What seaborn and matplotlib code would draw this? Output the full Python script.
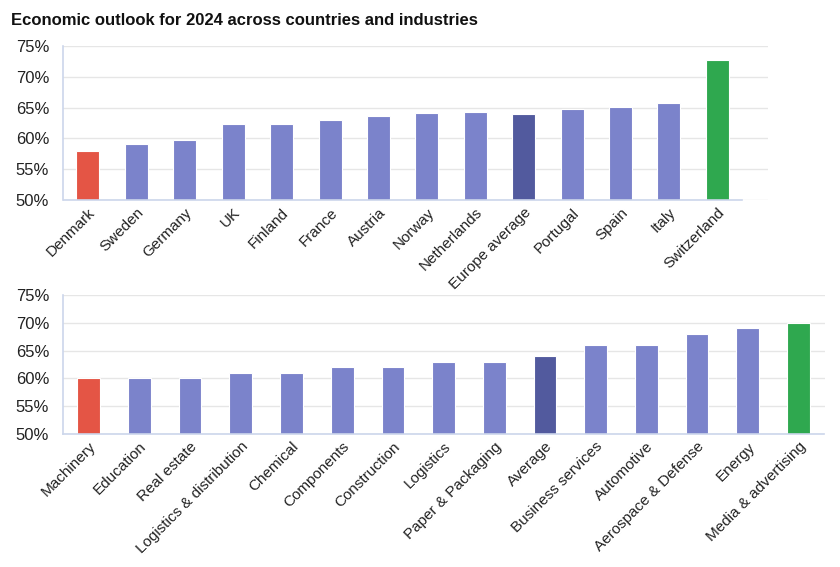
import matplotlib
matplotlib.use("Agg")
import matplotlib.pyplot as plt
import matplotlib.ticker as mticker
import seaborn as sns
import pandas as pd

# data (percent)
countries = ["Denmark", "Sweden", "Germany", "UK", "Finland", "France", "Austria",
             "Norway", "Netherlands", "Europe average", "Portugal", "Spain", "Italy",
             "Switzerland"]
country_values = [57.9, 59.1, 59.7, 62.4, 62.4, 63.0, 63.6, 64.2, 64.3, 63.9,
                  64.7, 65.1, 65.8, 72.8]

industries = ["Machinery", "Education", "Real estate", "Logistics & distribution",
              "Chemical", "Components", "Construction", "Logistics",
              "Paper & Packaging", "Average", "Business services", "Automotive",
              "Aerospace & Defense", "Energy", "Media & advertising"]
industry_values = [60, 60, 60, 61, 61, 62, 62, 63, 63, 64, 66, 66, 68, 69, 70]

BLUE = "#7b83cb"
DARK = "#525a9e"
RED = "#e45545"
GREEN = "#2fa84f"

sns.set_style("white")
plt.rcParams["font.family"] = ["Liberation Sans", "DejaVu Sans"]


def colors_for(labels, avg_label):
    pal = {}
    for i, lab in enumerate(labels):
        if i == 0:
            pal[lab] = RED
        elif i == len(labels) - 1:
            pal[lab] = GREEN
        elif lab == avg_label:
            pal[lab] = DARK
        else:
            pal[lab] = BLUE
    return pal


def draw(ax, labels, values, avg_label, width, xlim):
    df = pd.DataFrame({"name": labels, "value": values})
    sns.barplot(data=df, x="name", y="value", hue="name",
                palette=colors_for(labels, avg_label), legend=False,
                width=width, edgecolor="white", linewidth=0.8, saturation=1,
                ax=ax)
    ax.set_ylim(50, 75)
    ax.set_xlim(*xlim)
    ax.set_yticks(range(50, 76, 5))
    ax.yaxis.set_major_formatter(mticker.FuncFormatter(lambda v, p: f"{v:.0f}%"))
    ax.grid(axis="y", color="#e6e6e6", linewidth=1)
    ax.set_axisbelow(True)
    for s in ["top", "right"]:
        ax.spines[s].set_visible(False)
    ax.spines["left"].set_color("#ccd6eb")
    ax.spines["bottom"].set_color("#ccd6eb")
    ax.spines["left"].set_linewidth(1.2)
    ax.spines["bottom"].set_linewidth(1.2)
    ax.spines["bottom"].set_bounds(-0.5, len(labels) - 0.5)
    ax.tick_params(axis="y", length=8, color="#ccd6eb", labelsize=12,
                   labelcolor="#222222", pad=2)
    ax.tick_params(axis="x", length=0, labelsize=11, labelcolor="#222222", pad=4)
    ax.set_xlabel("")
    ax.set_ylabel("")
    ax.set_xticks(range(len(labels)))
    ax.set_xticklabels(labels, rotation=45, ha="right", rotation_mode="anchor")


fig = plt.figure(figsize=(8.4, 5.67), dpi=100)
ax1 = fig.add_axes([0.075, 0.6473, 0.839, 0.2716])
ax2 = fig.add_axes([0.075, 0.2346, 0.907, 0.2451])

draw(ax1, countries, country_values, "Europe average", 0.475, (-0.516, 14.04))
draw(ax2, industries, industry_values, "Average", 0.447, (-0.506, 14.52))

fig.text(0.013, 0.964, "Economic outlook for 2024 across countries and industries",
         fontsize=12, fontweight="bold", color="#111111", ha="left", va="center")

fig.savefig("out.png", dpi=100)
